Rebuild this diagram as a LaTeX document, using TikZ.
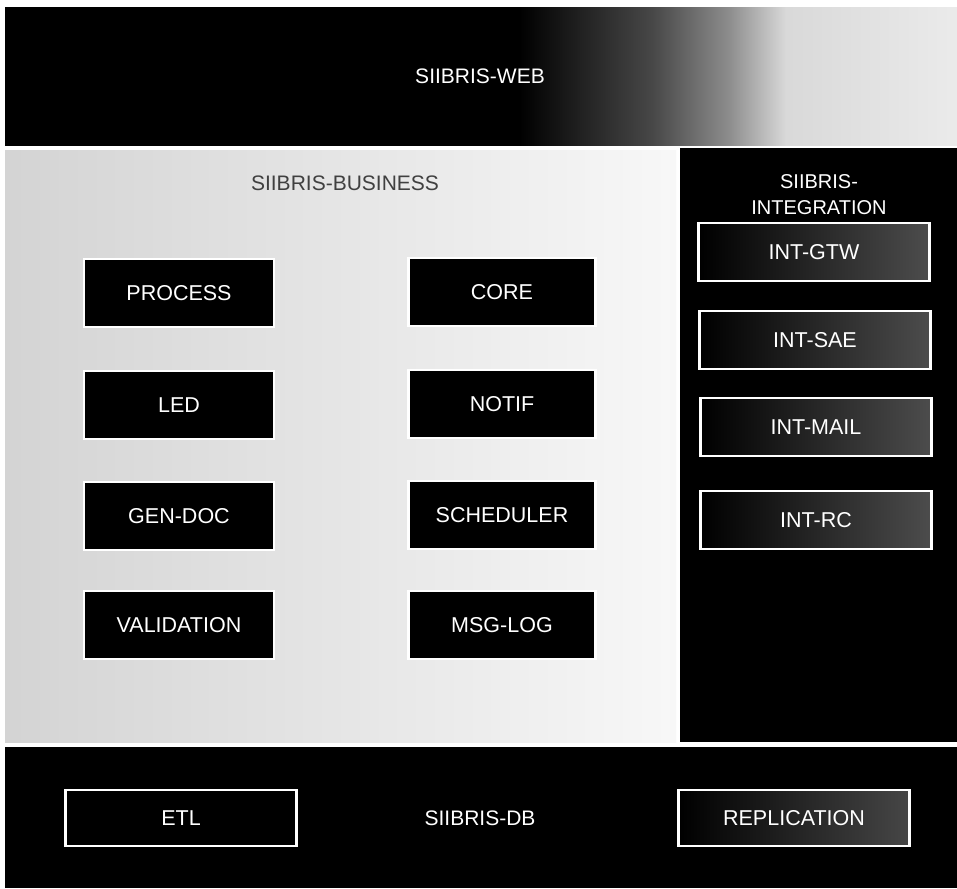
\documentclass[tikz,border=0pt]{standalone}
\usepackage{fontspec}
\setmainfont{Liberation Sans}
\pgfdeclarehorizontalshading{webshade}{100bp}{color(0bp)=(black); color(25bp)=(black); color(52bp)=(black); color(59bp)=(black!72); color(63bp)=(black!45); color(66bp)=(black!15); color(75bp)=(black!8); color(100bp)=(black!8)}
\tikzset{
  lbl/.style={font=\fontsize{21}{24}\selectfont, text=white, inner sep=0pt},
  modbox/.style={draw=white, line width=2.2pt, fill=black, text=white,
    minimum width=190pt, minimum height=68pt, inner sep=0pt,
    font=\fontsize{21.5}{24}\selectfont},
  intbox/.style={draw=white, line width=2.2pt, left color=black, right color=gray!60!black,
    text=white, minimum width=231pt, minimum height=58pt, inner sep=0pt,
    font=\fontsize{21.5}{24}\selectfont},
  dbbox/.style={draw=white, line width=2.2pt, fill=black, text=white,
    minimum width=231pt, minimum height=56pt, inner sep=0pt,
    font=\fontsize{21.5}{24}\selectfont}
}
\begin{document}
\begin{tikzpicture}[x=1pt,y=-1pt]
\useasboundingbox (0,0) rectangle (957,888);
\fill[white] (0,0) rectangle (957,888);
% panels
\shade[shading=webshade] (5,8) rectangle (957,145);
\shade[left color=gray!34, right color=gray!6] (5,150) rectangle (676,742);
\fill[black] (680,148) rectangle (957,742);
\fill[black] (5,747) rectangle (957,888);
% panel titles
\node[lbl] (web) at (480,76) {SIIBRIS-WEB};
\node[lbl, text=black!75] (bus) at (345,183) {SIIBRIS-BUSINESS};
\node[lbl, align=center, font=\fontsize{20}{26}\selectfont] (integ) at (819,195) {SIIBRIS-\\INTEGRATION};
\node[lbl] (db) at (480,818) {SIIBRIS-DB};
% business modules
\node[modbox] (process) at (179,293) {PROCESS};
\node[modbox] (led) at (179,405) {LED};
\node[modbox] (gendoc) at (179,516) {GEN-DOC};
\node[modbox] (validation) at (179,625) {VALIDATION};
\node[modbox, minimum width=187pt] (core) at (502,292) {CORE};
\node[modbox, minimum width=187pt] (notif) at (502,404) {NOTIF};
\node[modbox, minimum width=187pt] (scheduler) at (502,515) {SCHEDULER};
\node[modbox, minimum width=187pt] (msglog) at (502,625) {MSG-LOG};
% integration modules
\node[intbox] (gtw) at (814,252) {INT-GTW};
\node[intbox] (sae) at (815,340) {INT-SAE};
\node[intbox] (mail) at (816,427) {INT-MAIL};
\node[intbox] (rc) at (816,520) {INT-RC};
% db modules
\node[dbbox] (etl) at (181,818) {ETL};
\node[dbbox, left color=black, right color=gray!55!black] (repl) at (794,818) {REPLICATION};
\end{tikzpicture}
\end{document}
